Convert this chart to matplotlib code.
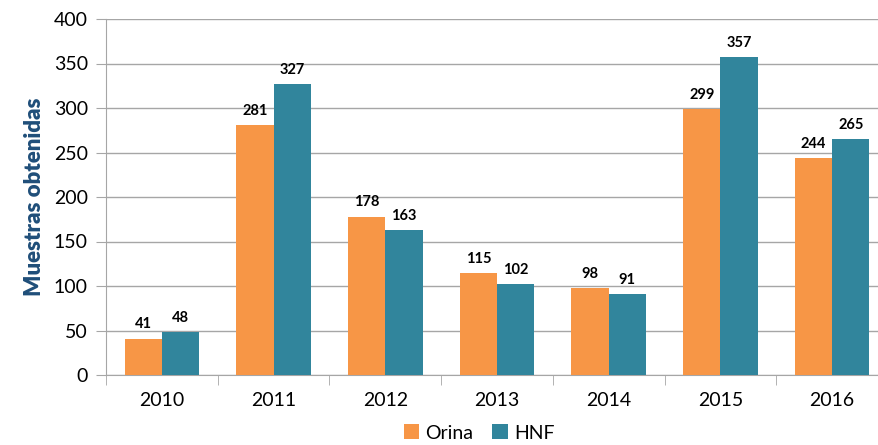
import numpy as np
import matplotlib.pyplot as plt

years = ['2010', '2011', '2012', '2013', '2014', '2015', '2016']
orina = [41, 281, 178, 115, 98, 299, 244]
hnf = [48, 327, 163, 102, 91, 357, 265]

plt.rcParams['font.family'] = ['Lato', 'DejaVu Sans']

fig = plt.figure(figsize=(8.79, 4.45), dpi=100)
ax = fig.add_axes([106 / 879, 1 - 375 / 445, 782 / 879, 356 / 445])

x = np.arange(len(years))
w = 1 / 3
b1 = ax.bar(x - w / 2, orina, w, color='#F79646', label='Orina', zorder=3)
b2 = ax.bar(x + w / 2, hnf, w, color='#31859C', label='HNF', zorder=3)

for bars in (b1, b2):
    for r in bars:
        ax.text(r.get_x() + r.get_width() / 2, r.get_height() + 8, f'{int(r.get_height())}',
                ha='center', va='bottom', fontsize=10.5, fontweight='bold')

ax.set_xlim(-0.5, len(years) - 0.5)
ax.set_ylim(0, 400)
ax.set_yticks(range(0, 401, 50))
ax.yaxis.grid(True, color='#A6A6A6', linewidth=1, zorder=0)
ax.set_xticks(x)
ax.set_xticklabels(years)
ax.set_xticks(np.arange(-0.5, len(years), 1), minor=True)
ax.tick_params(axis='x', which='major', length=0, labelsize=14, pad=12)
ax.tick_params(axis='x', which='minor', length=7, color='#A6A6A6')
ax.tick_params(axis='y', length=7, color='#A6A6A6', labelsize=14, pad=6)

for s in ('top', 'right'):
    ax.spines[s].set_visible(False)
for s in ('left', 'bottom'):
    ax.spines[s].set_color('#A6A6A6')

ax.set_ylabel('Muestras obtenidas', fontsize=16, fontweight='heavy', color='#1F4E79', labelpad=6)

fig.legend(loc='center', bbox_to_anchor=(479 / 879, 1 - 433 / 445), ncol=2, frameon=False,
           fontsize=14, handlelength=0.8, handleheight=0.8, handletextpad=0.3, columnspacing=1.0)

fig.savefig('out.png', dpi=100)
